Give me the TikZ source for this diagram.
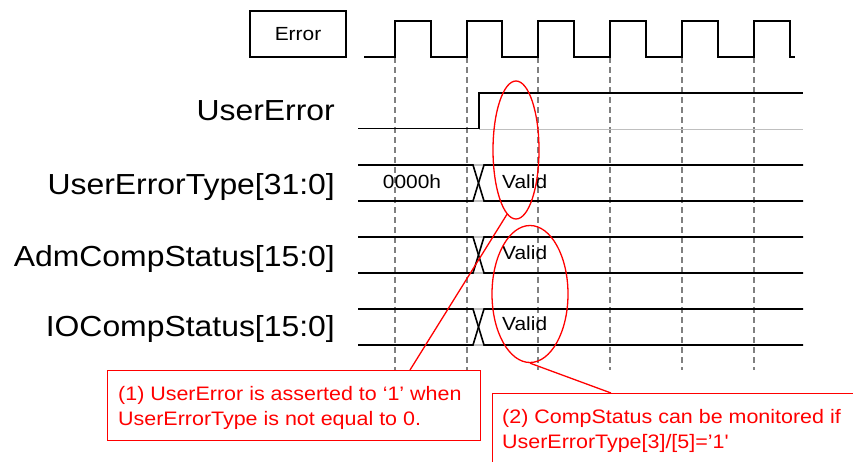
\documentclass[tikz,border=0pt]{standalone}
\usepackage{fontspec}
\setmainfont[FakeStretch=1.1]{Liberation Sans}
\usetikzlibrary{shapes.geometric}
\begin{document}
\begin{tikzpicture}[x=1pt,y=-1pt,
  sig/.style={line width=1.6pt, black},
  gridln/.style={line width=1.4pt, black!50, dash pattern=on 6pt off 4pt},
  faint/.style={line width=1.4pt, black!25},
  redln/.style={red, line width=1.3pt},
  lbl/.style={anchor=base east, inner sep=0pt, font=\fontsize{29}{31}\selectfont},
  small/.style={inner sep=0pt, font=\fontsize{19}{22}\selectfont},
  note/.style={anchor=base west, inner sep=0pt, text=red, font=\fontsize{19.5}{25}\selectfont},
  redbox/.style={draw=red, line width=1.3pt, inner sep=0pt, anchor=north west},
  redell/.style={ellipse, draw=red, line width=1.3pt, inner sep=0pt}
]
\clip (0,0) rectangle (853,461);
\fill[white] (0,0) rectangle (853,461);

% dashed guides
\foreach \x in {395,467,538,610,682,754}
  \draw[gridln] (\x,57) -- (\x,370);

% Error box and clock
\node[draw, line width=1.3pt, minimum width=96pt, minimum height=46pt, small] (err) at (298,34) {Error};
\draw[sig] (364,57) -- (395,57) -- (395,21) -- (431,21) -- (431,57)
  -- (467,57) -- (467,21) -- (502,21) -- (502,57)
  -- (538,57) -- (538,21) -- (574,21) -- (574,57)
  -- (610,57) -- (610,21) -- (646,21) -- (646,57)
  -- (682,57) -- (682,21) -- (718,21) -- (718,57)
  -- (754,57) -- (754,21) -- (790,21) -- (790,57) -- (795,57);

% UserError
\draw[faint] (479,129.5) -- (803,129.5);
\draw[sig] (358,128.5) -- (479,128.5) -- (479,93) -- (803,93);

% buses
\foreach \t/\b in {165/201, 237/273, 309/345} {
  \draw[faint] (473,\t) -- (484,\t);
  \draw[faint] (473,\b) -- (484,\b);
  \draw[sig] (358,\t) -- (473,\t) -- (484,\b) -- (803,\b);
  \draw[sig] (358,\b) -- (473,\b) -- (484,\t) -- (803,\t);
}

% labels
\node[lbl] (l1) at (335,120) {UserError};
\node[lbl] (l2) at (335,194) {UserErrorType[31:0]};
\node[lbl] (l3) at (335,266) {AdmCompStatus[15:0]};
\node[lbl] (l4) at (335,336) {IOCompStatus[15:0]};

% bus values
\node[small] (v0) at (412,182) {0000h};
\node[small, anchor=west] (v1) at (502,182) {Valid};
\node[small, anchor=west] (v2) at (502,253) {Valid};
\node[small, anchor=west] (v3) at (502,324) {Valid};

% annotations
\node[redell, minimum width=46pt, minimum height=138pt] (e1) at (516,150) {};
\node[redell, minimum width=76pt, minimum height=137pt] (e2) at (530,294) {};

\node[redbox, minimum width=373pt, minimum height=70pt] (b1) at (107,370) {};
\node[redbox, minimum width=420pt, minimum height=120pt] (b2) at (492,393) {};

\coordinate (c1) at (410,370);
\coordinate (c2) at (611,393);
\draw[redln] (e1.-98) -- (c1);
\draw[redln] (e2.south) -- (c2);

\node[note] (t1a) at (118,400) {(1) UserError is asserted to `1' when};
\node[note] (t1b) at (118,425) {UserErrorType is not equal to 0.};
\node[note] (t2a) at (502,423) {(2) CompStatus can be monitored if};
\node[note] (t2b) at (502,448) {UserErrorType[3]/[5]='1\textquotesingle};
\end{tikzpicture}
\end{document}
